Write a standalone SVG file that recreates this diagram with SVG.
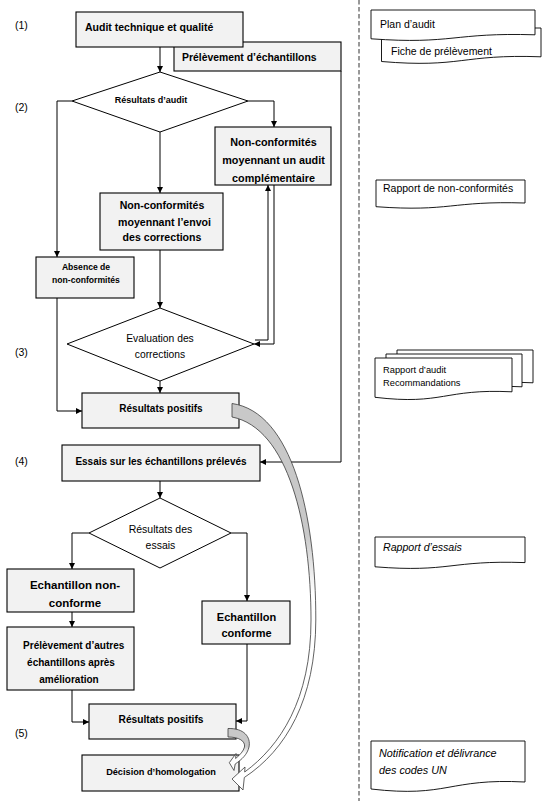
<svg xmlns="http://www.w3.org/2000/svg" width="550" height="801" viewBox="0 0 550 801">
<style>
text{font-family:"Liberation Sans",Arial,sans-serif;fill:#000}
.b{font-weight:bold}
.i{font-style:italic}
.m{text-anchor:middle}
.box{fill:#f2f2f2;stroke:#000;stroke-width:1.1}
.dia{fill:#fff;stroke:#000;stroke-width:1}
.doc{fill:#fff;stroke:#000;stroke-width:0.9}
.con{fill:none;stroke:#000;stroke-width:1;marker-end:url(#ah)}
.ln{fill:none;stroke:#000;stroke-width:1}
.curv{stroke:#3a3a3a;stroke-width:0.8}
</style>
<defs>
<marker id="ah" markerUnits="userSpaceOnUse" markerWidth="7" markerHeight="7" refX="6" refY="3" orient="auto">
<path d="M0,0 L6,3 L0,6 Z" fill="#000"/>
</marker>
<linearGradient id="gBig" gradientUnits="userSpaceOnUse" x1="0" y1="404" x2="0" y2="640">
<stop offset="0" stop-color="#c8c8c8"/>
<stop offset="0.55" stop-color="#c8c8c8"/>
<stop offset="0.8" stop-color="#ffffff"/>
</linearGradient>
<linearGradient id="gSmall" gradientUnits="userSpaceOnUse" x1="0" y1="729" x2="0" y2="760">
<stop offset="0" stop-color="#c8c8c8"/>
<stop offset="0.55" stop-color="#c8c8c8"/>
<stop offset="0.8" stop-color="#ffffff"/>
</linearGradient>
</defs>
<rect width="550" height="801" fill="#fff"/>

<line x1="359" y1="0" x2="359" y2="801" stroke="#333" stroke-width="1" stroke-dasharray="4.5,2.5"/>

<g id="labels">
<text x="15" y="29" font-size="10.5">(1)</text>
<text x="15" y="111" font-size="10.5">(2)</text>
<text x="15" y="355.5" font-size="10.5">(3)</text>
<text x="15" y="465" font-size="10.5">(4)</text>
<text x="15" y="736.5" font-size="10.5">(5)</text>
</g>

<g id="connectors">
<path class="con" d="M160,47 V72"/>
<path class="con" d="M72,101 H57 V257"/>
<path class="con" d="M248,101 H274 V127"/>
<path class="con" d="M160,132 V193"/>
<path class="con" d="M160,250 V308"/>
<path class="con" d="M57,298 V411 H82"/>
<path class="con" d="M255,340 H268 V185"/>
<path class="con" d="M274,185 V344 H254"/>
<path class="con" d="M160,381 V393"/>
<path class="con" d="M341,71 V462 H260"/>
<path class="con" d="M160,481 V498"/>
<path class="con" d="M89,533 H72 V569"/>
<path class="con" d="M231,533 H247 V601"/>
<path class="con" d="M72,612 V627"/>
<path class="con" d="M72,690 V722 H89"/>
<path class="con" d="M247,644 V721 H236"/>
</g>

<g id="prelevement">
<rect class="box" x="174" y="42" width="167" height="29"/>
<text x="182" y="60.5" font-size="10.4" class="b">Prélèvement d’échantillons</text>
</g>
<g id="audit">
<rect class="box" x="76" y="12" width="167" height="35"/>
<text x="85" y="31" font-size="10.5" class="b">Audit technique et qualité</text>
</g>
<g id="resultats-audit">
<polygon class="dia" points="160,72 248,101 160,132 72,101"/>
<text x="151" y="102.5" font-size="9" class="b m">Résultats d’audit</text>
</g>
<g id="nc-audit">
<rect class="box" x="215" y="127" width="116" height="58"/>
<text x="273.5" y="146" font-size="10.8" class="b m">Non-conformités</text>
<text x="273.5" y="164" font-size="10.8" class="b m">moyennant un audit</text>
<text x="273.5" y="181.5" font-size="10.8" class="b m">complémentaire</text>
</g>
<g id="nc-envoi">
<rect class="box" x="100" y="193" width="123" height="57"/>
<text x="162" y="209" font-size="10.6" class="b m">Non-conformités</text>
<text x="164.5" y="225.5" font-size="10.6" class="b m">moyennant l’envoi</text>
<text x="162" y="240.5" font-size="10.6" class="b m">des corrections</text>
</g>
<g id="absence">
<rect class="box" x="36" y="257" width="98" height="41"/>
<text x="86" y="269.5" font-size="8.6" class="b m">Absence de</text>
<text x="86" y="282.5" font-size="8.6" class="b m">non-conformités</text>
</g>
<g id="evaluation">
<polygon class="dia" points="160,308 254,344 160,381 67,344"/>
<text x="160" y="342" font-size="10.3" class="m">Evaluation des</text>
<text x="160" y="357.5" font-size="10.3" class="m">corrections</text>
</g>
<g id="positifs1">
<rect class="box" x="82" y="393" width="157" height="35"/>
<text x="161" y="412" font-size="10" class="b m">Résultats positifs</text>
</g>
<g id="essais">
<rect class="box" x="62" y="445" width="198" height="36"/>
<text x="161" y="465" font-size="10" class="b m">Essais sur les échantillons prélevés</text>
</g>
<g id="resultats-essais">
<polygon class="dia" points="160,498 231,533 160,568 89,533"/>
<text x="160.5" y="532.5" font-size="10.5" class="m">Résultats des</text>
<text x="160.5" y="548.5" font-size="10.5" class="m">essais</text>
</g>
<g id="non-conforme">
<rect class="box" x="7" y="569" width="127" height="43"/>
<text x="75" y="589" font-size="11.5" class="b m">Echantillon non-</text>
<text x="75" y="606.5" font-size="11.5" class="b m">conforme</text>
</g>
<g id="autres">
<rect class="box" x="7" y="627" width="127" height="63"/>
<text x="73.7" y="648.5" font-size="10" class="b m">Prélèvement d’autres</text>
<text x="71" y="666" font-size="10" class="b m">échantillons après</text>
<text x="69" y="683" font-size="10" class="b m">amélioration</text>
</g>
<g id="conforme">
<rect class="box" x="202" y="601" width="88" height="43"/>
<text x="246.5" y="620.5" font-size="11" class="b m">Echantillon</text>
<text x="246.5" y="637" font-size="11" class="b m">conforme</text>
</g>
<g id="positifs2">
<rect class="box" x="89" y="704" width="147" height="35"/>
<text x="161" y="722.5" font-size="10.2" class="b m">Résultats positifs</text>
</g>
<g id="decision">
<rect class="box" x="82" y="755" width="157" height="36"/>
<text x="161" y="775" font-size="9.2" class="b m">Décision d’homologation</text>
</g>

<g id="curved-big">
<path class="curv" fill="url(#gBig)" d="M232,403.5 C292,412 316,515 315.8,620 C315.6,700 286,750 244.3,777.5 L243,790 L232,779 L245,767 L244.7,772 C280,746 311,700 311,620 C311,525 288,428 232,417 Z"/>
</g>
<g id="curved-small">
<path class="curv" fill="url(#gSmall)" d="M228,728.5 C244,728 251,737 249,747 C247.5,754 242,759.5 235.2,764 L234,770.5 L229.3,762.7 L236,753.5 L235.6,758.5 C240,755 243.5,751 244.5,747 C245.5,741 239,737 228,737 Z"/>
</g>

<g id="doc-fiche">
<path class="doc" d="M381.5,28 H541 V56.8 C461.3,53.9 461.3,68.3 381.5,61.5 Z"/>
<text x="391" y="54.5" font-size="10.5">Fiche de prélèvement</text>
</g>
<g id="doc-plan">
<path class="doc" d="M371,10 H535 V34.8 C453,32.3 453,44.7 371,38.8 Z"/>
<text x="380" y="28" font-size="10.5">Plan d’audit</text>
</g>
<g id="doc-nc">
<path class="doc" d="M376,180 H525 V203 C450.5,200.7 450.5,212.1 376,206.7 Z"/>
<text x="383" y="192" font-size="10.5">Rapport de non-conformités</text>
</g>
<g id="doc-audit">
<path class="doc" d="M397,350 H533 V382.8 C465,379.5 465,395.9 397,388.1 Z"/>
<path class="doc" d="M386,354 H522 V386.8 C454,383.5 454,399.9 386,392.1 Z"/>
<path class="doc" d="M375,358 H512 V391.8 C443.5,388.5 443.5,405.4 375,397.3 Z"/>
<text x="383" y="372.5" font-size="9.3">Rapport d’audit</text>
<text x="383" y="386" font-size="9.3">Recommandations</text>
</g>
<g id="doc-essais">
<path class="doc" d="M375,537 H525 V562.6 C450,560 450,572.8 375,566.8 Z"/>
<text x="383" y="550.5" font-size="10.6" class="i">Rapport d’essais</text>
</g>
<g id="doc-notification">
<path class="doc" d="M371,741 H525 V782 C448,778 448,798 371,789 Z"/>
<text x="379" y="757" font-size="10.8" class="i">Notification et délivrance</text>
<text x="379" y="774" font-size="10.8" class="i">des codes UN</text>
</g>
</svg>
